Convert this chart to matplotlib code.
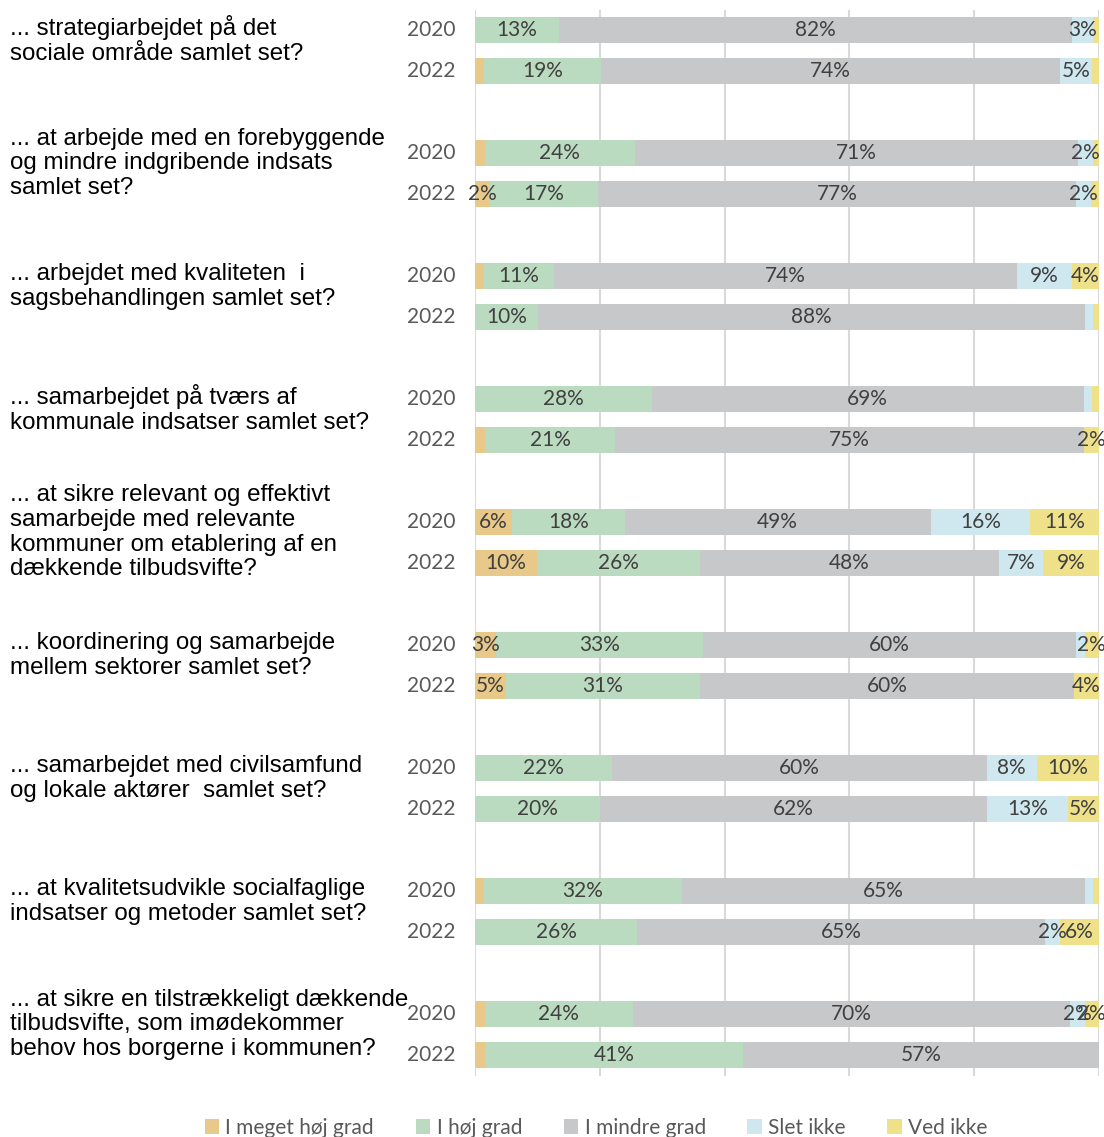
import numpy as np
import matplotlib
matplotlib.use('Agg')
import matplotlib.pyplot as plt
from matplotlib.transforms import blended_transform_factory

# question texts (one per group of two bars)
questions = [
    '... strategiarbejdet på det\nsociale område samlet set?',
    '... at arbejde med en forebyggende\nog mindre indgribende indsats\nsamlet set?',
    '... arbejdet med kvaliteten  i\nsagsbehandlingen samlet set?',
    '... samarbejdet på tværs af\nkommunale indsatser samlet set?',
    '... at sikre relevant og effektivt\nsamarbejde med relevante\nkommuner om etablering af en\ndækkende tilbudsvifte?',
    '... koordinering og samarbejde\nmellem sektorer samlet set?',
    '... samarbejdet med civilsamfund\nog lokale aktører  samlet set?',
    '... at kvalitetsudvikle socialfaglige\nindsatser og metoder samlet set?',
    '... at sikre en tilstrækkeligt dækkende\ntilbudsvifte, som imødekommer\nbehov hos borgerne i kommunen?',
]
years = ['2020', '2022']
categories = ['I meget høj grad', 'I høj grad', 'I mindre grad', 'Slet ikke', 'Ved ikke']
colors = ['#E9C98A', '#BBDBC0', '#C7C8CA', '#CFE7EF', '#EFE18A']

# values in %, order: q1 2020, q1 2022, q2 2020, q2 2022, ...
meget_hoej = [0, 1.4, 1.6, 2.4, 1.5, 0, 0, 1.6, 6.0, 10.0, 3.4, 5.0, 0, 0, 1.5, 0, 1.6, 1.6]
hoej = [13.4, 18.8, 24.0, 17.3, 11.1, 10.1, 28.3, 20.9, 18.0, 26.0, 33.1, 31.0, 22.0, 20.0, 31.6, 26.0, 23.7, 41.3]
mindre = [82.3, 73.6, 71.0, 76.6, 74.2, 87.6, 69.3, 75.1, 49.0, 48.0, 59.8, 60.0, 60.0, 62.0, 64.7, 65.4, 70.1, 57.1]
slet_ikke = [3.3, 5.0, 2.4, 2.4, 8.8, 1.3, 1.2, 0, 16.0, 7.0, 1.4, 0, 8.0, 13.0, 1.2, 2.4, 2.3, 0]
ved_ikke = [1.0, 1.2, 1.0, 1.3, 4.4, 1.0, 1.2, 2.4, 11.0, 9.0, 2.3, 4.0, 10.0, 5.0, 1.0, 6.2, 2.3, 0]

series = [meget_hoej, hoej, mindre, slet_ikke, ved_ikke]

label_font = 'Lato'
grey_txt = '#595959'

fig = plt.figure(figsize=(11.04, 11.37), dpi=100)
ax = fig.add_axes([475 / 1104, 1 - 1075.5 / 1137, 624 / 1104, 1066 / 1137])

# bar positions: 2 bars per question, a gap row between groups
ypos = []
for i in range(len(questions)):
    ypos += [3 * i, 3 * i + 1]
ypos = np.array(ypos)

left = np.zeros(len(ypos))
for vals, col, cat in zip(series, colors, categories):
    vals = np.array(vals)
    ax.barh(ypos, vals, left=left, height=0.65, color=col, label=cat, zorder=2)
    for y, l, v in zip(ypos, left, vals):
        if v >= 2:
            ax.text(l + v / 2, y, f'{v:.0f}%', ha='center', va='center',
                    fontsize=15, color='#404040', family=label_font, zorder=3)
    left += vals

ax.set_xlim(0, 100)
ax.set_ylim(25.5, -0.5)
ax.set_xticks([0, 20, 40, 60, 80, 100])
ax.xaxis.grid(True, color='#D9D9D9', linewidth=1.5, zorder=0)
ax.tick_params(left=False, bottom=False, labelbottom=False, labelleft=False)
for s in ax.spines.values():
    s.set_visible(False)

# year labels
trans = blended_transform_factory(fig.transFigure, ax.transData)
for i, y in enumerate(ypos):
    fig.text(455 / 1104, y, years[i % 2], transform=trans, ha='right', va='center',
             fontsize=15, color=grey_txt, family=label_font)

# question labels
for i, q in enumerate(questions):
    fig.text(10 / 1104, 3 * i + 0.25, q, transform=trans, ha='left', va='center',
             fontsize=17.4, color='black', family='Liberation Sans', linespacing=1.16)

fig.legend(loc='center', bbox_to_anchor=(0.54, 1 - 1128 / 1137), ncol=5, frameon=False,
           handlelength=0.7, handleheight=0.7, handletextpad=0.3, columnspacing=2.0,
           prop={'family': label_font, 'size': 15}, labelcolor=grey_txt)

fig.savefig('out.png', dpi=100)
